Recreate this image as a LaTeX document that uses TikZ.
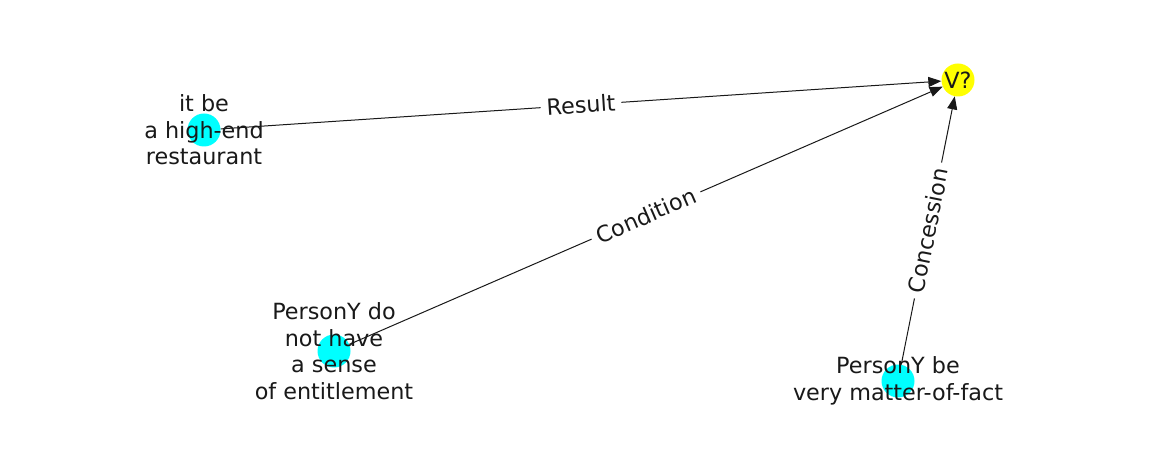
\documentclass[tikz,border=0pt]{standalone}
\usepackage{fontspec}
\setmainfont{DejaVu Sans}
\usetikzlibrary{arrows.meta}
\definecolor{nodecyan}{RGB}{0,255,255}
\definecolor{nodeyellow}{RGB}{255,255,0}
\begin{document}
\begin{tikzpicture}[x=1pt,y=-1pt,
  dot/.style={circle,minimum size=33pt,inner sep=0pt,draw=none},
  txt/.style={align=center,inner sep=0pt,text=black!90,
    font=\fontsize{22.3}{26.5}\selectfont},
  rel/.style={draw=black!90,line width=1pt,
    -{Triangle[length=13pt,width=10pt]}},
  rellabel/.style={fill=white,inner sep=6pt,sloped,midway,text=black!90,
    font=\fontsize{22.3}{26.5}\selectfont}]
  \fill[white] (0,0) rectangle (1162,462);
  % edges first, nodes on top
  \coordinate (pv) at (958,80);
  \coordinate (pa) at (204,130);
  \coordinate (pb) at (334,351);
  \coordinate (pc) at (898,381);
  \node[dot] (v) at (pv) {};
  \node[dot] (a) at (pa) {};
  \node[dot] (b) at (pb) {};
  \node[dot] (c) at (pc) {};
  \draw[rel] (a) -- node[rellabel] {Result} (v);
  \draw[rel] (b) -- node[rellabel] {Condition} (v);
  \draw[rel] (c) -- node[rellabel] {Concession} (v);
  \fill[nodeyellow] (pv) circle (16.5);
  \fill[nodecyan] (pa) circle (16.5);
  \fill[nodecyan] (pb) circle (16.5);
  \fill[nodecyan] (pc) circle (16.5);
  \node[txt] (tv) at (pv) {V?};
  \node[txt] (ta) at (pa) {it be\\a high-end\\restaurant};
  \node[txt] (tb) at (pb) {PersonY do\\not have\\a sense\\of entitlement};
  \node[txt] (tc) at (pc) {PersonY be\\very matter-of-fact};
\end{tikzpicture}
\end{document}
